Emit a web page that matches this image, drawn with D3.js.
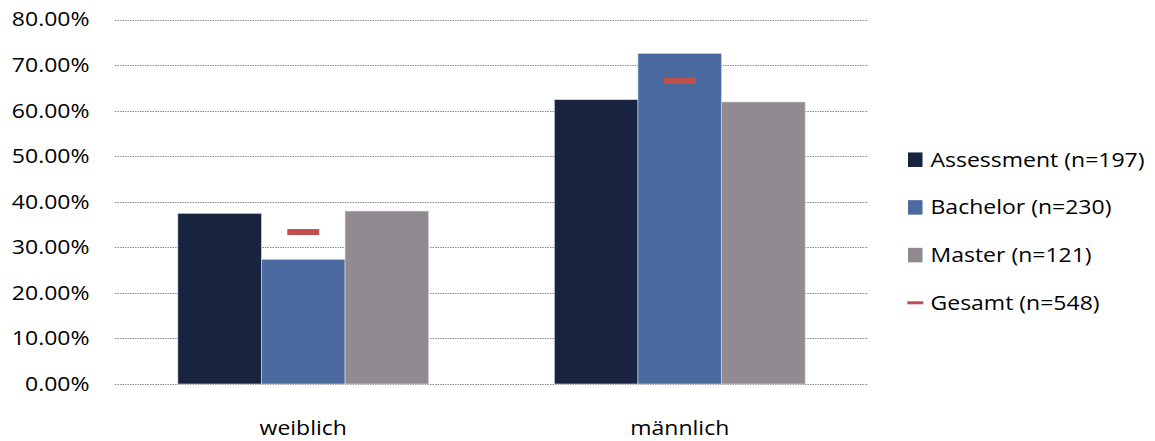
<!DOCTYPE html>
<html><head><meta charset="utf-8">
<script src="https://cdn.jsdelivr.net/npm/d3@7"></script>
<style>body{margin:0;background:#fff;} svg{display:block;font-family:"Open Sans",Carlito,Lato,sans-serif;}</style>
</head><body>
<svg id="c" width="1155" height="441"></svg>
<script>
const categories = ["weiblich", "männlich"];
const seriesNames = ["Assessment (n=197)", "Bachelor (n=230)", "Master (n=121)"];
const assessment = [0.3745, 0.624];
const bachelor = [0.2736, 0.7255];
const master = [0.3796, 0.619];
const gesamtName = "Gesamt (n=548)";
const gesamt = [0.3335, 0.6655];
const yTicks = [0, 0.1, 0.2, 0.3, 0.4, 0.5, 0.6, 0.7, 0.8];
const colors = ["#17233F", "#4A6AA0", "#918A90"];
const gesamtColor = "#C0504D";

const FS = 20, SX = 1.15;
const svg = d3.select("#c");
const pLeft = 115, pRight = 868, pTop = 19.5, pBottom = 384;
const y = d3.scaleLinear().domain([0, 0.8]).range([pBottom, pTop]);
const x0 = d3.scaleBand().domain(categories).range([pLeft, pRight]).paddingInner(0.334).paddingOuter(0.167);
const x1 = d3.scaleBand().domain(seriesNames).range([0, x0.bandwidth()]);

// gridlines
svg.append("g").selectAll("line").data(yTicks).join("line")
  .attr("x1", pLeft).attr("x2", pRight)
  .attr("y1", d => Math.round(y(d)) + 0.5).attr("y2", d => Math.round(y(d)) + 0.5)
  .attr("stroke", "#8a8a8a").attr("stroke-width", 1).attr("stroke-dasharray", "1.5,1");

// y axis labels
const yAxis = d3.axisLeft(y).tickValues(yTicks).tickFormat(d => (d * 100).toFixed(2) + "%").tickSize(0).tickPadding(0);
const ya = svg.append("g").attr("transform", `translate(89.5,0)`).call(yAxis);
ya.select(".domain").remove();
ya.selectAll("text").attr("font-size", FS).attr("fill", "#000").attr("font-family", "'Open Sans', sans-serif")
  .attr("x", 0).attr("dy", "0.32em").attr("transform", `scale(${SX},1)`);

const seriesData = [assessment, bachelor, master];
const g = svg.append("g");
categories.forEach((c, ci) => {
  seriesNames.forEach((s, si) => {
    const v = seriesData[si][ci];
    g.append("rect")
      .attr("x", x0(c) + x1(s)).attr("y", y(v))
      .attr("width", x1.bandwidth()).attr("height", y(0) - y(v))
      .attr("fill", colors[si]).attr("stroke", "#d9dde6").attr("stroke-width", 0.6);
  });
  const mx = x0(c) + x1(seriesNames[1]) + x1.bandwidth() / 2;
  g.append("rect").attr("x", mx - 16).attr("y", y(gesamt[ci]) - 3).attr("width", 32).attr("height", 6).attr("fill", gesamtColor);
});

// category labels
svg.append("g").selectAll("text").data(categories).join("text")
  .attr("transform", d => `translate(${x0(d) + x0.bandwidth() / 2},435) scale(${SX},1)`)
  .attr("text-anchor", "middle").attr("font-size", FS).attr("fill", "#000")
  .text(d => d);

// legend
const leg = svg.append("g");
const legItems = seriesNames.map((n, i) => ({name: n, color: colors[i], type: "box"})).concat([{name: gesamtName, color: gesamtColor, type: "line"}]);
legItems.forEach((it, i) => {
  const cy = 159.7 + i * 47.7;
  if (it.type === "box") {
    leg.append("rect").attr("x", 908).attr("y", cy - 7.25).attr("width", 14.5).attr("height", 14.5).attr("fill", it.color);
  } else {
    leg.append("rect").attr("x", 907.3).attr("y", cy - 1.5).attr("width", 16).attr("height", 3).attr("fill", it.color);
  }
  leg.append("text").attr("transform", `translate(930.5,${cy + 7}) scale(${SX},1)`)
    .attr("font-size", FS).attr("fill", "#000").text(it.name);
});
</script>
</body></html>
